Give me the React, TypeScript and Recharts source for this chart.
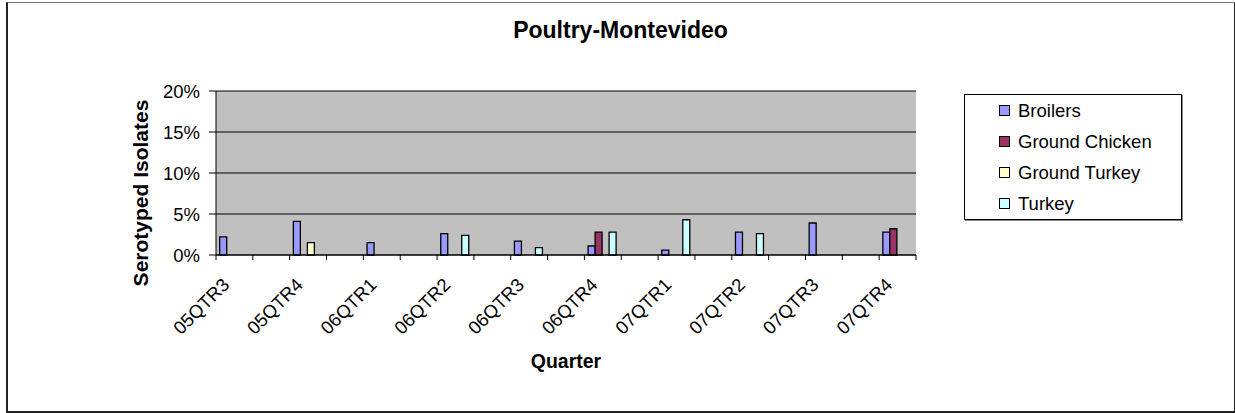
import React from 'react';
import { BarChart, Bar, XAxis, YAxis, CartesianGrid, Legend } from 'recharts';

const quarters = ['05QTR3', '05QTR4', '06QTR1', '06QTR2', '06QTR3', '06QTR4', '07QTR1', '07QTR2', '07QTR3', '07QTR4'];
const broilers = [2.2, 4.1, 1.5, 2.6, 1.7, 1.1, 0.6, 2.8, 3.9, 2.8];
const groundChicken = [0, 0, 0, 0, 0, 2.8, 0, 0, 0, 3.2];
const groundTurkey = [0, 1.5, 0, 0, 0, 0, 0, 0, 0, 0];
const turkey = [0, 0, 0, 2.4, 0.9, 2.8, 4.3, 2.6, 0, 0];
const yTicks = [0, 5, 10, 15, 20];

const seriesNames = ['Broilers', 'Ground Chicken', 'Ground Turkey', 'Turkey'];
const seriesColors = ['#9999FF', '#993366', '#FFFFCC', '#CCFFFF'];

// Excel-style layout: every quarter followed by an empty slot (tick labels every 2nd category)
const rows: any[] = [];
quarters.forEach((q, i) => {
  rows.push({
    quarter: q,
    'Broilers': broilers[i] || null,
    'Ground Chicken': groundChicken[i] || null,
    'Ground Turkey': groundTurkey[i] || null,
    'Turkey': turkey[i] || null,
  });
  if (i < quarters.length - 1) {
    rows.push({ quarter: '', 'Broilers': null, 'Ground Chicken': null, 'Ground Turkey': null, 'Turkey': null });
  }
});

const FONT = '"Liberation Sans", Arial, sans-serif';
const W = 1235;
const H = 413;
const X_AXIS_H = 158;
const M = { top: 91, right: 319, bottom: 0, left: 65 };
const Y_AXIS_W = 151;

const XTick = (props: any) => {
  const { x, y, payload, index } = props;
  const plotW = W - M.left - Y_AXIS_W - M.right;
  const half = payload && payload.offset ? payload.offset : plotW / rows.length / 2;
  const axisY = y - 5;
  return (
    <g>
      <line x1={x - half} x2={x - half} y1={axisY} y2={axisY + 5} stroke="#000" strokeWidth={1} />
      {index === rows.length - 1 ? (
        <line x1={x + half} x2={x + half} y1={axisY} y2={axisY + 5} stroke="#000" strokeWidth={1} />
      ) : null}
      {payload.value ? (
        <text
          x={x - 4}
          y={y + 26}
          textAnchor="end"
          transform={`rotate(-45, ${x - 4}, ${y + 26})`}
          fontFamily={FONT}
          fontSize={18.5}
          fill="#000"
        >
          {payload.value}
        </text>
      ) : null}
    </g>
  );
};

const LegendBox = (props: any) => {
  const payload = props.payload || [];
  return (
    <div
      style={{
        width: 216,
        height: 124,
        border: '1px solid #000',
        boxShadow: '1px 1px 0 #888',
        background: '#fff',
        fontFamily: FONT,
        fontSize: 18.5,
        color: '#000',
        boxSizing: 'content-box',
      }}
    >
      {payload.map((entry: any) => (
        <div key={entry.value} style={{ height: 31, display: 'flex', alignItems: 'center', paddingLeft: 34 }}>
          <span
            style={{
              display: 'inline-block',
              width: 9,
              height: 9,
              background: entry.color,
              border: '1.5px solid #000',
              marginRight: 8,
            }}
          />
          <span style={{ whiteSpace: 'nowrap' }}>{entry.value}</span>
        </div>
      ))}
    </div>
  );
};

export default function App() {
  return (
    <div style={{ position: 'absolute', left: 0, top: 0, width: W, height: H, background: '#fff' }}>
      <div
        style={{
          position: 'absolute',
          left: 6,
          top: 2,
          width: 1226,
          height: 408,
          borderTop: '1px solid #777',
          borderLeft: '2px solid #222',
          borderRight: '2px solid #222',
          borderBottom: '2px solid #222',
        }}
      />
      <div
        style={{
          position: 'absolute',
          left: 0,
          top: 18.8,
          width: 1241,
          textAlign: 'center',
          fontFamily: FONT,
          fontWeight: 'bold',
          fontSize: 23,
          lineHeight: '23px',
          color: '#000',
        }}
      >
        Poultry-Montevideo
      </div>
      <div style={{ position: 'absolute', left: 0, top: 0 }}>
        <BarChart
          width={W}
          height={H}
          data={rows}
          margin={M}
          barCategoryGap="10%"
          barGap={0}
        >
          <CartesianGrid fill="#C0C0C0" stroke="#000" vertical={false} />
          <XAxis
            dataKey="quarter"
            interval={0}
            tickSize={5}
            tickMargin={0}
            tickLine={false}
            axisLine={{ stroke: '#000', strokeWidth: 1 }}
            tick={<XTick />}
            height={X_AXIS_H}
            label={{
              value: 'Quarter',
              position: 'insideBottom',
              offset: 45,
              fontFamily: FONT,
              fontWeight: 'bold',
              fontSize: 19.5,
              fill: '#000',
            }}
          />
          <XAxis
            xAxisId="top"
            orientation="top"
            dataKey="quarter"
            tick={false}
            tickLine={false}
            height={0}
            axisLine={{ stroke: '#808080', strokeWidth: 1.5 }}
          />
          <YAxis
            domain={[0, 20]}
            ticks={yTicks}
            tickFormatter={(v: number) => `${v}%`}
            width={Y_AXIS_W}
            tickSize={7}
            tickMargin={9}
            axisLine={{ stroke: '#000', strokeWidth: 1 }}
            tickLine={{ stroke: '#000', strokeWidth: 1 }}
            tick={{ fontFamily: FONT, fontSize: 18.5, fill: '#000' }}
            label={{
              value: 'Serotyped Isolates',
              angle: -90,
              position: 'center',
              dy: 20,
              fontFamily: FONT,
              fontWeight: 'bold',
              fontSize: 21,
              fill: '#000',
            }}
          />
          <YAxis
            yAxisId="right"
            orientation="right"
            domain={[0, 20]}
            tick={false}
            tickLine={false}
            width={0}
            axisLine={{ stroke: '#808080', strokeWidth: 1.5 }}
          />
          <Legend
            layout="vertical"
            align="center"
            verticalAlign="middle"
            content={<LegendBox />}
            wrapperStyle={{ left: 964, top: 94, width: 220, height: 128 }}
          />
          {seriesNames.map((name, i) => (
            <Bar
              key={name}
              dataKey={name}
              name={name}
              fill={seriesColors[i]}
              stroke="#000"
              strokeWidth={1.3}
              isAnimationActive={false}
            />
          ))}
        </BarChart>
      </div>
    </div>
  );
}
